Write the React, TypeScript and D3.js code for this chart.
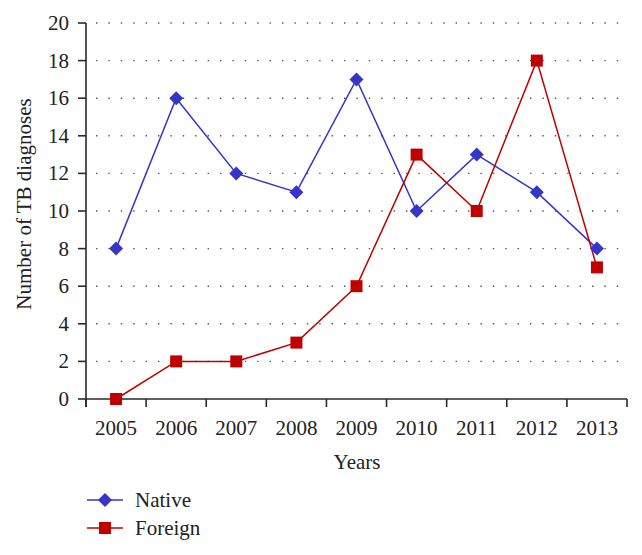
import React from "react";
import * as d3 from "d3";

const years = ["2005", "2006", "2007", "2008", "2009", "2010", "2011", "2012", "2013"];
const nativeValues = [8, 16, 12, 11, 17, 10, 13, 11, 8];
const foreignValues = [0, 2, 2, 3, 6, 13, 10, 18, 7];
const yTicks = [0, 2, 4, 6, 8, 10, 12, 14, 16, 18, 20];
const seriesNames = ["Native", "Foreign"];

const W = 642;
const H = 555;
const left = 86;
const right = 627;
const top = 23;
const bottom = 399;
const font = "'Liberation Serif', 'DejaVu Serif', serif";
const blue = "#3535c8";
const red = "#c00000";
const axisColor = "#2a2a2a";
const fs = 21;

export default function App() {
  const x = d3.scaleBand<string>().domain(years).range([left, right]);
  const y = d3.scaleLinear().domain([0, 20]).range([bottom, top]);
  const cx = (yr: string) => (x(yr) as number) + x.bandwidth() / 2;
  const line = d3
    .line<number>()
    .x((_, i) => cx(years[i]))
    .y((d) => y(d));
  const diamond = (px: number, py: number, r: number) =>
    `M${px},${py - r}L${px + r},${py}L${px},${py + r}L${px - r},${py}Z`;
  const tickXs = [left, ...years.map((yr) => (x(yr) as number) + x.bandwidth())];

  return (
    <svg width={W} height={H} style={{ position: "absolute", left: 0, top: 0 }}>
      <rect width={W} height={H} fill="#fff" />
      {/* grid */}
      {yTicks.filter((t) => t > 0).map((t) => (
        <line
          key={"g" + t}
          x1={left + 10}
          x2={right}
          y1={y(t)}
          y2={y(t)}
          stroke="#555"
          strokeWidth={1.4}
          strokeDasharray="1.4,11"
        />
      ))}
      {/* axes */}
      <line x1={left} x2={left} y1={top} y2={bottom + 8} stroke={axisColor} strokeWidth={1.6} />
      <line x1={left} x2={right} y1={bottom} y2={bottom} stroke={axisColor} strokeWidth={1.6} />
      {yTicks.map((t) => (
        <g key={"yt" + t}>
          <line x1={left - 8} x2={left} y1={y(t)} y2={y(t)} stroke={axisColor} strokeWidth={1.6} />
          <text
            x={left - 17}
            y={y(t)}
            textAnchor="end"
            dominantBaseline="central"
            fontFamily={font}
            fontSize={fs}
            fill="#222"
          >
            {t}
          </text>
        </g>
      ))}
      {tickXs.map((tx, i) => (
        <line key={"xt" + i} x1={tx} x2={tx} y1={bottom} y2={bottom + 8} stroke={axisColor} strokeWidth={1.6} />
      ))}
      {years.map((yr) => (
        <text
          key={"xl" + yr}
          x={cx(yr)}
          y={428}
          textAnchor="middle"
          dominantBaseline="central"
          fontFamily={font}
          fontSize={fs}
          fill="#222"
        >
          {yr}
        </text>
      ))}
      <text x={357} y={462} textAnchor="middle" dominantBaseline="central" fontFamily={font} fontSize={fs} fill="#222">
        Years
      </text>
      <text
        transform={`translate(24,204) rotate(-90)`}
        textAnchor="middle"
        dominantBaseline="central"
        fontFamily={font}
        fontSize={fs}
        fill="#222"
      >
        Number of TB diagnoses
      </text>
      {/* series */}
      <path d={line(nativeValues) || ""} fill="none" stroke={blue} strokeWidth={1.5} />
      <path d={line(foreignValues) || ""} fill="none" stroke={red} strokeWidth={1.5} />
      {nativeValues.map((v, i) => (
        <path key={"n" + i} d={diamond(cx(years[i]), y(v), 7)} fill={blue} />
      ))}
      {foreignValues.map((v, i) => (
        <rect key={"f" + i} x={cx(years[i]) - 6} y={y(v) - 6} width={12} height={12} fill={red} />
      ))}
      {/* legend */}
      {seriesNames.map((name, i) => {
        const ly = 500 + i * 28;
        const c = i === 0 ? blue : red;
        return (
          <g key={name}>
            <line x1={87} x2={123} y1={ly} y2={ly} stroke={c} strokeWidth={1.5} />
            {i === 0 ? (
              <path d={diamond(105, ly, 7)} fill={c} />
            ) : (
              <rect x={99} y={ly - 6} width={12} height={12} fill={c} />
            )}
            <text x={135} y={ly} dominantBaseline="central" fontFamily={font} fontSize={fs} fill="#222">
              {name}
            </text>
          </g>
        );
      })}
    </svg>
  );
}
